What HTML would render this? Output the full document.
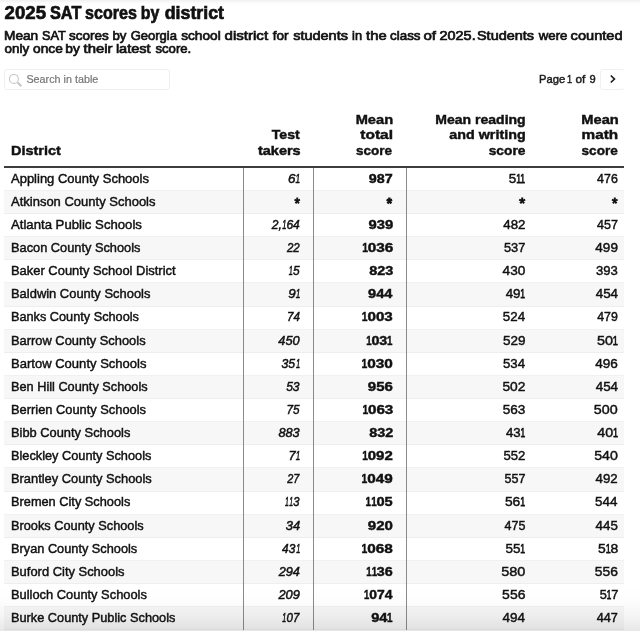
<!DOCTYPE html>
<html lang="en">
<head>
<meta charset="utf-8">
<title>2025 SAT scores by district</title>
<style>
html,body{margin:0;padding:0;background:#fff;width:640px;height:631px;overflow:hidden;}
body{font-family:"Liberation Sans",sans-serif;color:#111;}
#chart{position:relative;width:640px;height:631px;overflow:hidden;background:#fff;}
span{-webkit-text-stroke:0.45px currentColor;display:inline-block;white-space:nowrap;transform:translate(var(--x,0px),var(--y,0px)) scale(var(--k,1),var(--ky,1));transform-origin:0 50%;}
.title{position:absolute;left:5px;top:2.5px;margin:0;font-size:19px;line-height:20px;font-weight:700;white-space:nowrap;color:#111;}
.desc{position:absolute;left:5px;top:28.7px;margin:0;font-size:13.4px;line-height:13.5px;white-space:nowrap;color:#111;}
.search{position:absolute;left:4px;top:69px;width:166px;height:21px;border:1px solid #efefef;border-radius:3px;box-sizing:border-box;}
.search .mag{position:absolute;left:3px;top:3px;}
.search .ph{-webkit-text-stroke-width:0.2px;position:absolute;left:22px;top:0;line-height:19px;font-size:10.75px;color:#777;}
.pager{position:absolute;left:0;top:69px;width:624px;height:21px;overflow:hidden;}
.pager .pg{position:absolute;left:540px;top:0;line-height:21px;font-size:11.5px;color:#1a1a1a;white-space:nowrap;}
.pager .next{position:absolute;left:600px;top:0;width:25px;height:21px;border:1px solid #f0f0f0;border-radius:3px;box-sizing:border-box;transform:none;}
.pager .next svg{position:absolute;left:8px;top:4.3px;}
table{position:absolute;left:4.3px;top:105px;width:619.7px;border-collapse:separate;border-spacing:0;table-layout:fixed;}
th,td{padding:0;margin:0;white-space:nowrap;}
.d{width:239px;text-align:left;padding-left:6.7px;}
.t{width:69.7px;text-align:right;padding-right:13.6px;}
.s{width:93.1px;text-align:right;padding-right:14px;}
.r{width:131.9px;text-align:right;padding-right:13px;}
.m{width:86px;text-align:right;padding-right:6.4px;}
.t span,.s span,.r span,.m span{transform-origin:100% 50%;}
thead th{font-weight:700;font-size:13.5px;line-height:15.35px;vertical-align:bottom;height:63px;padding-bottom:8px;border-bottom:2px solid #3d3d3d;box-sizing:border-box;color:#111;}
tbody td{height:23.13px;line-height:15px;font-size:13px;vertical-align:baseline;padding-top:2.9px;padding-bottom:0;box-shadow:inset 0 -1px 0 0 #f1f1f1;box-sizing:border-box;color:#111;}
.title span{-webkit-text-stroke-width:0.7px;}
.desc span{-webkit-text-stroke-width:0.7px;}
.t span{-webkit-text-stroke-width:0.5px;}
td span.ast{-webkit-text-stroke-width:0.9px;}
td span.o{-webkit-text-stroke-width:0.75px;transform:scaleX(.64);transform-origin:50% 50%;margin:0 -1.4px;}
td.s span.o{-webkit-text-stroke-width:0.45px;transform:scaleX(.68);margin:0 -1.15px;}
td.t span.o{-webkit-text-stroke-width:0.55px;transform:scaleX(.62);margin:0 -1.3px 0 -0.9px;}
tbody tr:first-child td{height:22.93px;padding-top:2.7px;}
tbody tr:nth-child(even) td{background:#f7f7f7;box-shadow:inset 0 -1px 0 0 #eee;}
td.t{font-style:italic;border-left:1px solid #8a8a8a;}
td.s{font-weight:700;border-left:1px solid #8a8a8a;}
td.r{border-left:1px solid #8a8a8a;}
.fade-top{position:absolute;left:0;top:0;width:640px;height:4px;background:linear-gradient(to bottom,rgba(0,0,0,0.06),rgba(0,0,0,0));pointer-events:none;}
.fade-bot{position:absolute;left:0;bottom:0;width:640px;height:44px;background:linear-gradient(to bottom,rgba(0,0,0,0) 0%,rgba(0,0,0,0.012) 35%,rgba(0,0,0,0.04) 65%,rgba(0,0,0,0.095) 100%);pointer-events:none;}
</style>
</head>
<body>
<div id="chart">
<h1 class="title"><span style="--k:0.9799;--x:-0.39px">2025</span> <span style="--k:0.8585;--x:-3.04px">SAT</span> <span style="--k:0.8451;--x:-8.88px">scores</span> <span style="--k:0.8359;--x:-20.30px">by</span> <span style="--k:0.9363;--x:-23.29px">district</span></h1>
<p class="desc"><span style="--k:1.022;--x:-1.00px">Mean</span> <span style="--k:0.9518;--x:-0.03px">SAT</span> <span style="--k:1.006;--x:-2.00px">scores</span> <span style="--k:0.9868;--x:-1.48px">by</span> <span style="--k:0.9709;--x:-1.37px">Georgia</span> <span style="--k:1.02;--x:-1.80px">school</span> <span style="--k:1.125;--x:-1.45px">district</span> <span style="--k:1.008;--x:4.70px">for</span> <span style="--k:1.082;--x:5.18px">students</span> <span style="--k:0.9551;--x:10.06px">in</span> <span style="--k:1.101;--x:10.09px">the</span> <span style="--k:0.9988;--x:11.08px">class</span> <span style="--k:1.128;--x:10.43px">of</span> <span style="--k:1.079;--x:11.50px">2025.</span> <span style="--k:1.081;--x:11.97px">Students</span> <span style="--k:0.9879;--x:16.72px">were</span> <span style="--k:1.09;--x:16.62px">counted</span><br><span style="--k:1.001;--x:-0.38px">only</span> <span style="--k:1.024;--x:0.09px">once</span> <span style="--k:1.027;--x:-0.63px">by</span> <span style="--k:1.111;--x:-0.40px">their</span> <span style="--k:1.086;--x:1.88px">latest</span> <span style="--k:0.9826;--x:5.44px">score.</span></p>
<div class="search">
<svg class="mag" width="16" height="16" viewBox="0 0 16 16" aria-hidden="true"><circle cx="5.9" cy="5.9" r="4.45" fill="none" stroke="#c6c6c6" stroke-width="1.1"/><path d="M9.6 9.6 L13.3 13.3" stroke="#c6c6c6" stroke-width="2.1" stroke-linecap="butt" fill="none"/></svg>
<span class="ph" style="--k:1.002;--x:-0.57px">Search in table</span>
</div>
<div class="pager"><div class="pg"><span style="--k:0.9739;--x:-1.00px">Page</span> <span style="--k:0.8;--x:-2.96px">1</span> <span style="--k:1.026;--x:-4.62px">of</span> <span style="--k:0.9658;--x:-2.54px">9</span></div><span class="next"><svg width="8" height="10" viewBox="0 0 8 10" aria-hidden="true"><path d="M1.8 1.5 L5.4 5 L1.8 8.5" fill="none" stroke="#1d1d1d" stroke-width="1.7" stroke-linecap="butt" stroke-linejoin="miter"/></svg></span></div>
<table>
<thead>
<tr><th class="d"><span style="--k:1.073">District</span></th><th class="t"><span style="--k:1.041;--x:-0.10px">Test</span><br><span style="--k:1.07;--x:0.80px">takers</span></th><th class="s"><span style="--k:1.085;--x:0.59px">Mean</span><br><span style="--k:1.148;--x:0.52px">total</span><br><span style="--k:0.9991;--x:0.03px">score</span></th><th class="r"><span style="--k:1.038;--x:0.65px">Mean reading</span><br><span style="--k:1.061;--x:0.64px">and writing</span><br><span style="--k:1.019;--x:0.36px">score</span></th><th class="m"><span style="--k:1.085;--x:1.22px">Mean</span><br><span style="--k:1.135;--x:0.98px">math</span><br><span style="--k:1.007;--x:-0.20px">score</span></th></tr>
</thead>
<tbody>
<tr><td class="d"><span style="--k:0.9994">Appling County Schools</span></td><td class="t"><span style="--k:1.028;--x:1.31px">6<span class="o">1</span></span></td><td class="s"><span style="--k:1.1;--x:1.02px">987</span></td><td class="r"><span style="--k:1.036;--x:0.22px">5<span class="o">1</span><span class="o">1</span></span></td><td class="m"><span style="--k:0.9565;--x:0.11px">476</span></td></tr>
<tr><td class="d"><span style="--k:0.9998">Atkinson County Schools</span></td><td class="t"><span class="ast" style="--k:1.049;--x:0.13px;--y:1.50px;--ky:1.08">*</span></td><td class="s"><span class="ast" style="--k:1.026;--x:-0.08px;--y:1.50px;--ky:1.08">*</span></td><td class="r"><span class="ast" style="--k:1.158;--x:0.12px;--y:1.50px;--ky:1.08">*</span></td><td class="m"><span class="ast" style="--k:1.091;--x:-0.45px;--y:1.50px;--ky:1.08">*</span></td></tr>
<tr><td class="d"><span style="--k:1.012">Atlanta Public Schools</span></td><td class="t"><span style="--k:0.9256;--x:0.46px">2,<span class="o">1</span>64</span></td><td class="s"><span style="--k:1.136;--x:1.54px">939</span></td><td class="r"><span style="--k:1.021;--x:0.71px">482</span></td><td class="m"><span style="--k:0.9615;--x:0.18px">457</span></td></tr>
<tr><td class="d"><span style="--k:0.9842">Bacon County Schools</span></td><td class="t"><span style="--k:0.8859;--x:0.24px">22</span></td><td class="s"><span style="--k:1.179;--x:1.73px"><span class="o">1</span>036</span></td><td class="r"><span style="--k:0.9848;--x:0.66px">537</span></td><td class="m"><span style="--k:1.04;--x:0.22px">499</span></td></tr>
<tr><td class="d"><span style="--k:0.9947">Baker County School District</span></td><td class="t"><span style="--k:0.9159;--x:0.31px"><span class="o">1</span>5</span></td><td class="s"><span style="--k:1.108;--x:1.55px">823</span></td><td class="r"><span style="--k:1.049;--x:0.61px">430</span></td><td class="m"><span style="--k:1.006;--x:0.15px">393</span></td></tr>
<tr><td class="d"><span style="--k:0.9945">Baldwin County Schools</span></td><td class="t"><span style="--k:1.024;--x:1.43px">9<span class="o">1</span></span></td><td class="s"><span style="--k:1.119;--x:0.65px">944</span></td><td class="r"><span style="--k:1.029;--x:0.19px">49<span class="o">1</span></span></td><td class="m"><span style="--k:1.032;--x:0.38px">454</span></td></tr>
<tr><td class="d"><span style="--k:0.9777">Banks County Schools</span></td><td class="t"><span style="--k:0.8937;--x:0.44px">74</span></td><td class="s"><span style="--k:1.166;--x:1.11px"><span class="o">1</span>003</span></td><td class="r"><span style="--k:1.026;--x:0.38px">524</span></td><td class="m"><span style="--k:0.9508;--x:0.08px">479</span></td></tr>
<tr><td class="d"><span style="--k:0.9907">Barrow County Schools</span></td><td class="t"><span style="--k:0.9819;--x:-0.09px">450</span></td><td class="s"><span style="--k:1.098;--x:0.37px"><span class="o">1</span>03<span class="o">1</span></span></td><td class="r"><span style="--k:1.039;--x:0.79px">529</span></td><td class="m"><span style="--k:1.108;--x:0.04px">50<span class="o">1</span></span></td></tr>
<tr><td class="d"><span style="--k:1.003">Bartow County Schools</span></td><td class="t"><span style="--k:0.9385;--x:0.37px">35<span class="o">1</span></span></td><td class="s"><span style="--k:1.182;--x:1.16px"><span class="o">1</span>030</span></td><td class="r"><span style="--k:1.017;--x:0.37px">534</span></td><td class="m"><span style="--k:1.045;--x:0.23px">496</span></td></tr>
<tr><td class="d"><span style="--k:0.9795">Ben Hill County Schools</span></td><td class="t"><span style="--k:0.9266;--x:0.09px">53</span></td><td class="s"><span style="--k:1.151;--x:1.09px">956</span></td><td class="r"><span style="--k:1.061;--x:0.70px">502</span></td><td class="m"><span style="--k:1.032;--x:0.38px">454</span></td></tr>
<tr><td class="d"><span style="--k:0.9884">Berrien County Schools</span></td><td class="t"><span style="--k:0.9007;--x:0.02px">75</span></td><td class="s"><span style="--k:1.166;--x:1.64px"><span class="o">1</span>063</span></td><td class="r"><span style="--k:1.048;--x:0.76px">563</span></td><td class="m"><span style="--k:1.102;--x:0.08px">500</span></td></tr>
<tr><td class="d"><span style="--k:0.9886">Bibb County Schools</span></td><td class="t"><span style="--k:0.9753;--x:-0.09px">883</span></td><td class="s"><span style="--k:1.106;--x:1.44px">832</span></td><td class="r"><span style="--k:1.018;--x:0.24px">43<span class="o">1</span></span></td><td class="m"><span style="--k:1.093;--x:0.05px">40<span class="o">1</span></span></td></tr>
<tr><td class="d"><span style="--k:0.9809">Bleckley County Schools</span></td><td class="t"><span style="--k:0.9895;--x:1.34px">7<span class="o">1</span></span></td><td class="s"><span style="--k:1.15;--x:1.11px"><span class="o">1</span>092</span></td><td class="r"><span style="--k:1.01;--x:0.68px">552</span></td><td class="m"><span style="--k:1.09;--x:0.11px">540</span></td></tr>
<tr><td class="d"><span style="--k:0.9884">Brantley County Schools</span></td><td class="t"><span style="--k:0.8378;--x:-0.15px">27</span></td><td class="s"><span style="--k:1.173;--x:0.97px"><span class="o">1</span>049</span></td><td class="r"><span style="--k:0.9664;--x:0.71px">557</span></td><td class="m"><span style="--k:1.019;--x:0.02px">492</span></td></tr>
<tr><td class="d"><span style="--k:0.9826">Bremen City Schools</span></td><td class="t"><span style="--k:0.8604;--x:0.27px"><span class="o">1</span><span class="o">1</span>3</span></td><td class="s"><span style="--k:1.122;--x:0.37px"><span class="o">1</span><span class="o">1</span>05</span></td><td class="r"><span style="--k:1.065;--x:0.15px">56<span class="o">1</span></span></td><td class="m"><span style="--k:1.029;--x:-0.25px">544</span></td></tr>
<tr><td class="d"><span style="--k:0.9818">Brooks County Schools</span></td><td class="t"><span style="--k:0.9952;--x:0.62px">34</span></td><td class="s"><span style="--k:1.155;--x:1.17px">920</span></td><td class="r"><span style="--k:0.962;--x:0.73px">475</span></td><td class="m"><span style="--k:1.023;--x:0.10px">445</span></td></tr>
<tr><td class="d"><span style="--k:0.9815">Bryan County Schools</span></td><td class="t"><span style="--k:0.9143;--x:0.40px">43<span class="o">1</span></span></td><td class="s"><span style="--k:1.18;--x:1.16px"><span class="o">1</span>068</span></td><td class="r"><span style="--k:1.037;--x:0.22px">55<span class="o">1</span></span></td><td class="m"><span style="--k:1.071;--x:0.30px">5<span class="o">1</span>8</span></td></tr>
<tr><td class="d"><span style="--k:0.9942">Buford City Schools</span></td><td class="t"><span style="--k:0.9783;--x:0.18px">294</span></td><td class="s"><span style="--k:1.101;--x:0.42px"><span class="o">1</span><span class="o">1</span>36</span></td><td class="r"><span style="--k:1.113;--x:0.60px">580</span></td><td class="m"><span style="--k:1.068;--x:0.17px">556</span></td></tr>
<tr><td class="d"><span style="--k:0.9898">Bulloch County Schools</span></td><td class="t"><span style="--k:0.9863;--x:0.09px">209</span></td><td class="s"><span style="--k:1.067;--x:0.73px"><span class="o">1</span>074</span></td><td class="r"><span style="--k:1.077;--x:0.77px">556</span></td><td class="m"><span style="--k:0.9837;--x:0.38px">5<span class="o">1</span>7</span></td></tr>
<tr><td class="d"><span style="--k:0.9805">Burke County Public Schools</span></td><td class="t"><span style="--k:0.8839;--x:-0.23px"><span class="o">1</span>07</span></td><td class="s"><span style="--k:1.117;--x:0.47px">94<span class="o">1</span></span></td><td class="r"><span style="--k:1.034;--x:0.36px">494</span></td><td class="m"><span style="--k:0.9732;--x:0.22px">447</span></td></tr>
</tbody>
</table>
<div class="fade-top"></div>
<div class="fade-bot"></div>
</div>
</body>
</html>
